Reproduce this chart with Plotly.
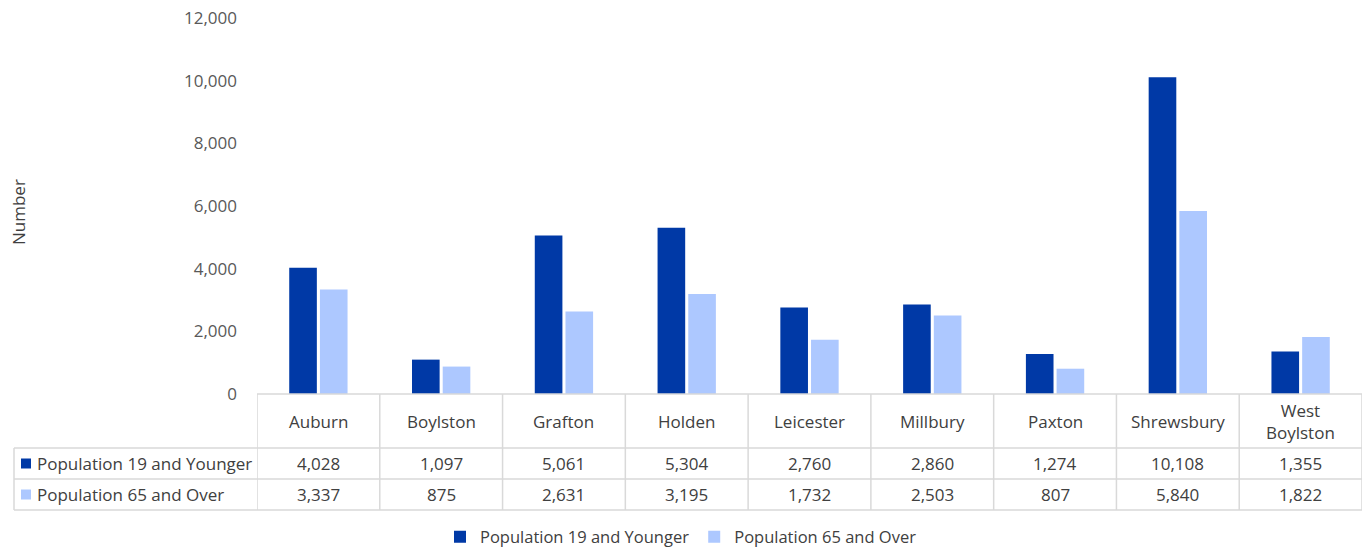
import plotly.graph_objects as go

towns = ["Auburn", "Boylston", "Grafton", "Holden", "Leicester", "Millbury", "Paxton", "Shrewsbury", "West Boylston"]
town_labels = ["Auburn", "Boylston", "Grafton", "Holden", "Leicester", "Millbury", "Paxton", "Shrewsbury", "West<br>Boylston"]
young = [4028, 1097, 5061, 5304, 2760, 2860, 1274, 10108, 1355]
old = [3337, 875, 2631, 3195, 1732, 2503, 807, 5840, 1822]
series_names = ["Population 19 and Younger", "Population 65 and Over"]
colors = ["#0039A6", "#ADC8FF"]

W, H = 1367, 550
L, R, T, B = 257, 5, 18, 156
pw = W - L - R
ph = H - T - B

def py(pix):
    return (H - B - pix) / ph

def px(pix):
    return (pix - L) / pw

fig = go.Figure()
for name, vals, c in zip(series_names, [young, old], colors):
    fig.add_trace(go.Bar(x=list(range(len(towns))), y=vals, name=name, marker_color=c,
                         marker_line_width=0, hoverinfo="y"))

font_family = "Open Sans, Noto Sans, sans-serif"
txt = "#404040"
grid = "#D9D9D9"
fs = 17

shapes = []
shapes.append(dict(type="line", xref="paper", yref="paper", x0=0, x1=1, y0=0, y1=0, line=dict(color=grid, width=1.5)))
for yp in [448, 479, 510]:
    shapes.append(dict(type="line", xref="paper", yref="paper", x0=px(14), x1=1, y0=py(yp), y1=py(yp), line=dict(color=grid, width=1.5)))
for i in range(len(towns) + 1):
    shapes.append(dict(type="line", xref="x", yref="paper", x0=i - 0.5, x1=i - 0.5, y0=0, y1=py(510), line=dict(color=grid, width=1.5)))
shapes.append(dict(type="line", xref="paper", yref="paper", x0=px(14), x1=px(14), y0=py(448), y1=py(510), line=dict(color=grid, width=1.5)))
for yc, c in zip([463.5, 494.5], colors):
    shapes.append(dict(type="rect", xref="paper", yref="paper", x0=px(21), x1=px(31), y0=py(yc - 5), y1=py(yc + 5), fillcolor=c, line=dict(width=0)))

ann = []
for i, lab in enumerate(town_labels):
    ann.append(dict(x=i, y=py(421), xref="x", yref="paper", text=lab, showarrow=False,
                    font=dict(size=fs, color=txt, family=font_family), yanchor="middle"))
    ann.append(dict(x=i, y=py(463.5), xref="x", yref="paper", text=f"{young[i]:,}", showarrow=False,
                    font=dict(size=fs, color=txt, family=font_family), yanchor="middle"))
    ann.append(dict(x=i, y=py(494.5), xref="x", yref="paper", text=f"{old[i]:,}", showarrow=False,
                    font=dict(size=fs, color=txt, family=font_family), yanchor="middle"))
for yc, name in zip([463.5, 494.5], series_names):
    ann.append(dict(x=px(35), y=py(yc), xref="paper", yref="paper", text=name, showarrow=False,
                    xanchor="left", yanchor="middle", font=dict(size=fs, color=txt, family=font_family)))
ann.append(dict(x=px(18), y=py(212), xref="paper", yref="paper", text="Number", textangle=-90, showarrow=False,
                font=dict(size=fs, color=txt, family=font_family), xanchor="center", yanchor="middle"))

fig.update_layout(
    width=W, height=H, margin=dict(l=L, r=R, t=T, b=B, autoexpand=False),
    plot_bgcolor="white", paper_bgcolor="white",
    barmode="group", bargap=0.5, bargroupgap=0.1,
    xaxis=dict(range=[-0.5, len(towns) - 0.5], showticklabels=False, showgrid=False, zeroline=False, showline=False, ticks=""),
    yaxis=dict(range=[0, 12000], dtick=2000, tickformat=",", showgrid=False, zeroline=False, showline=False,
               tickfont=dict(size=fs, color="#595959", family=font_family), ticklabelstandoff=19, automargin=False),
    shapes=shapes, annotations=ann,
    legend=dict(orientation="h", x=681 / W, xref="container", xanchor="center", y=(H - 537) / H, yref="container", yanchor="middle",
                font=dict(size=16.5, color=txt, family=font_family), traceorder="normal", itemwidth=30),
    showlegend=True,
)
fig.write_html("out.html", config={"displayModeBar": False},
               post_script="document.body.style.margin='0';document.body.style.overflow='hidden';")
